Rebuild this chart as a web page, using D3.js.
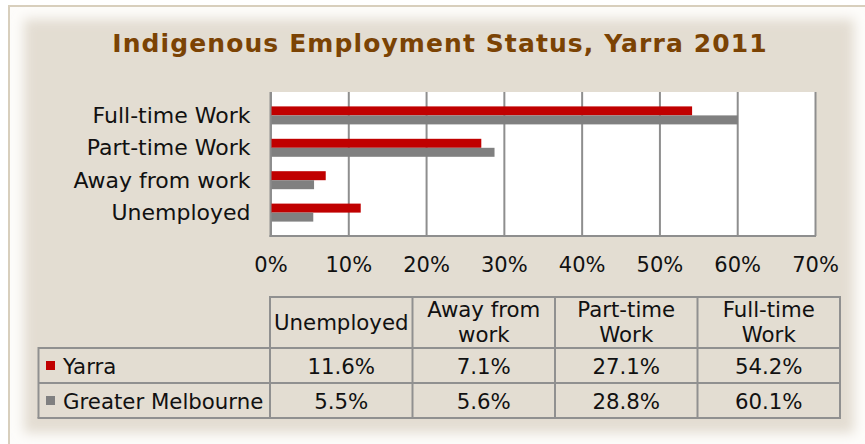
<!DOCTYPE html>
<html>
<head>
<meta charset="utf-8">
<script src="https://cdn.jsdelivr.net/npm/d3@7"></script>
<style>
  body { margin: 0; background: #fff; }
  svg { display: block; font-family: Verdana, "DejaVu Sans", sans-serif; }
</style>
</head>
<body>
<div id="chart"></div>
<script>
// chart values
var categories = ["Unemployed", "Away from work", "Part-time Work", "Full-time Work"];
var tableHeads = [["Unemployed"], ["Away from", "work"], ["Part-time", "Work"], ["Full-time", "Work"]];
var seriesNames = ["Yarra", "Greater Melbourne"];
var yarra = [11.6, 7.1, 27.1, 54.2];
var melbourne = [5.5, 5.6, 28.8, 60.1];
var xTicks = [0, 10, 20, 30, 40, 50, 60, 70];
var colors = ["#c00000", "#808080"];

var width = 865;
var height = 444;
var svg = d3.select("#chart").append("svg")
  .attr("width", width)
  .attr("height", height);

// frame with soft inner glow
var defs = svg.append("defs");
defs.append("filter").attr("id", "glow")
  .attr("x", "-10%").attr("y", "-10%").attr("width", "120%").attr("height", "120%")
  .append("feGaussianBlur").attr("stdDeviation", 6);

svg.append("rect")
  .attr("x", 9).attr("y", 6)
  .attr("width", 880).attr("height", 460)
  .attr("fill", "#fdfcfa")
  .attr("stroke", "#d8cfbd")
  .attr("stroke-width", 2);
svg.append("rect")
  .attr("x", 24).attr("y", 19)
  .attr("width", 830).attr("height", 414)
  .attr("fill", "#e3ddd2")
  .attr("filter", "url(#glow)");

svg.append("text")
  .attr("x", 440).attr("y", 52)
  .attr("text-anchor", "middle")
  .attr("font-size", 25)
  .attr("font-weight", "bold")
  .attr("letter-spacing", 1.1)
  .attr("fill", "#7b4304")
  .text("Indigenous Employment Status, Yarra 2011");

// plot area
var plotTop = 92, plotBottom = 236, plotLeft = 270.5, plotRight = 815;
var x = d3.scaleLinear().domain([0, 70]).range([plotLeft, plotRight]);
var y = d3.scaleBand().domain(categories.slice().reverse())
  .range([plotTop, plotBottom]).padding(16 / 36);
var ySub = d3.scaleBand().domain(seriesNames).range([0, y.bandwidth()]);

svg.append("rect")
  .attr("x", plotLeft).attr("y", plotTop)
  .attr("width", plotRight - plotLeft).attr("height", plotBottom - plotTop)
  .attr("fill", "#fff");

var grid = svg.append("g")
  .attr("transform", "translate(0," + plotBottom + ")")
  .call(d3.axisBottom(x).tickValues(xTicks).tickSize(-(plotBottom - plotTop)).tickFormat(""));
grid.select(".domain").remove();
grid.selectAll("line").attr("stroke", "#8e8e8e").attr("stroke-width", 2);

var series = [yarra, melbourne];
var barData = [];
categories.forEach(function(c, i) {
  seriesNames.forEach(function(s, j) {
    barData.push({cat: c, series: s, value: series[j][i], color: colors[j]});
  });
});

svg.append("g").selectAll("rect")
  .data(barData)
  .enter().append("rect")
  .attr("x", x(0))
  .attr("y", function(d) { return y(d.cat) + ySub(d.series); })
  .attr("width", function(d) { return x(d.value) - x(0); })
  .attr("height", ySub.bandwidth())
  .attr("fill", function(d) { return d.color; });

// axes lines
svg.append("line")
  .attr("x1", plotLeft).attr("x2", plotLeft)
  .attr("y1", plotTop).attr("y2", plotBottom + 1)
  .attr("stroke", "#8e8e8e").attr("stroke-width", 2);
svg.append("line")
  .attr("x1", plotLeft - 1).attr("x2", plotRight + 1)
  .attr("y1", plotBottom).attr("y2", plotBottom)
  .attr("stroke", "#8e8e8e").attr("stroke-width", 2);

var xAxis = svg.append("g")
  .attr("transform", "translate(0," + plotBottom + ")")
  .call(d3.axisBottom(x).tickValues(xTicks).tickSize(0).tickPadding(21)
    .tickFormat(function(d) { return d + "%"; }));
xAxis.select(".domain").remove();
xAxis.attr("font-size", 21);

var yAxis = svg.append("g")
  .attr("transform", "translate(" + (plotLeft - 20) + ",0)")
  .call(d3.axisLeft(y).tickSize(0).tickPadding(0));
yAxis.select(".domain").remove();
yAxis.attr("font-size", 22);
yAxis.selectAll("text").attr("dy", "0.34em");

[xAxis, yAxis].forEach(function(a) {
  a.attr("font-family", null);
  a.selectAll("text").attr("fill", "#111");
});

// data table
var tLeft = 38.5, tHeadTop = 297, tHeadBottom = 348, rowH = 35;
var col = d3.scaleBand().domain(categories).range([270, 840]);
var tRight = 840;
var tBottom = tHeadBottom + rowH * 2;
var table = svg.append("g");
var lineColor = "#909090";

function tline(x1, y1, x2, y2) {
  table.append("line")
    .attr("x1", x1).attr("y1", y1).attr("x2", x2).attr("y2", y2)
    .attr("stroke", lineColor).attr("stroke-width", 2);
}
tline(270, tHeadTop, tRight, tHeadTop);
tline(tLeft, tHeadBottom, tRight, tHeadBottom);
tline(tLeft, tHeadBottom + rowH, tRight, tHeadBottom + rowH);
tline(tLeft - 1, tBottom, tRight + 1, tBottom);
tline(tLeft, tHeadBottom - 1, tLeft, tBottom);
categories.forEach(function(c) { tline(col(c), tHeadTop - 1, col(c), tBottom); });
tline(tRight, tHeadTop - 1, tRight, tBottom);

categories.forEach(function(c, i) {
  var lines = tableHeads[i];
  var cx = col(c) + col.bandwidth() / 2;
  var t = table.append("text")
    .attr("text-anchor", "middle")
    .attr("font-size", 21.3)
    .attr("fill", "#111");
  if (lines.length === 1) {
    t.append("tspan").attr("x", cx).attr("y", 330).text(lines[0]);
  } else {
    t.append("tspan").attr("x", cx).attr("y", 317).text(lines[0]);
    t.append("tspan").attr("x", cx).attr("y", 342).text(lines[1]);
  }
});

seriesNames.forEach(function(s, j) {
  var rowTop = tHeadBottom + rowH * j;
  table.append("rect")
    .attr("x", 46).attr("y", rowTop + 13)
    .attr("width", 9).attr("height", 9)
    .attr("fill", colors[j]);
  table.append("text")
    .attr("x", 63).attr("y", rowTop + 25.5)
    .attr("font-size", 21.3)
    .attr("fill", "#111")
    .text(s);
  categories.forEach(function(c, i) {
    table.append("text")
      .attr("x", col(c) + col.bandwidth() / 2)
      .attr("y", rowTop + 25.5)
      .attr("text-anchor", "middle")
      .attr("font-size", 21.3)
      .attr("fill", "#111")
      .text(series[j][i].toFixed(1) + "%");
  });
});
</script>
</body>
</html>
